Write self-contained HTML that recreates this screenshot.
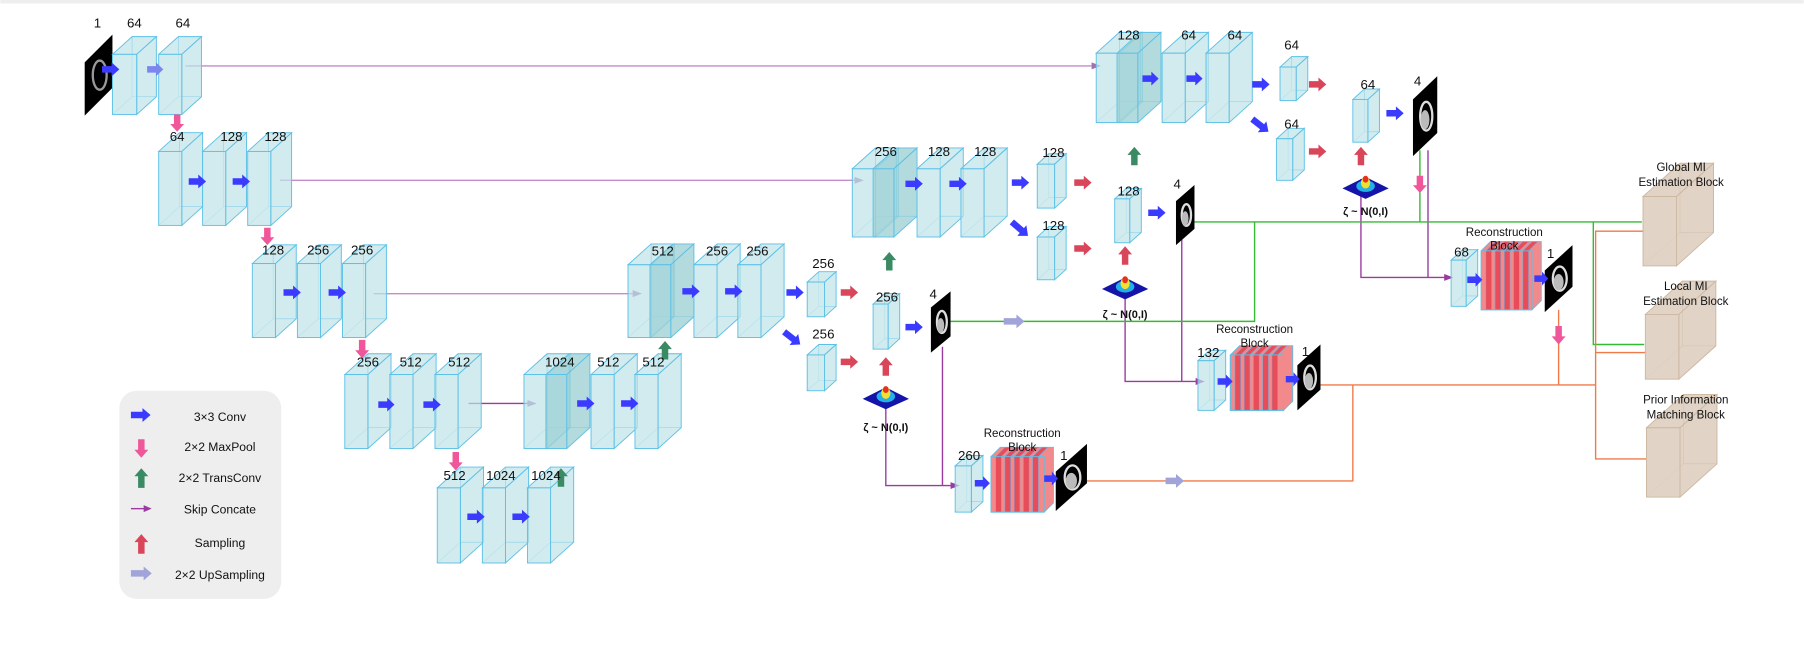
<!DOCTYPE html>
<html><head><meta charset="utf-8"><style>
html,body{margin:0;padding:0;background:#fff;}
svg{display:block;}
text{font-family:"Liberation Sans",sans-serif;fill:#111;}
</style></head><body>
<svg id="s" width="1804" height="652" viewBox="0 0 1560 564" xmlns="http://www.w3.org/2000/svg">
<rect x="0" y="0" width="1560" height="564" fill="#fff"/>
<rect x="0" y="0" width="1560" height="3" fill="#eee"/>
<g id="lines" fill="none"></g>
<g id="shapes"></g>
<g id="arrows"></g>
<g font-size="11.5" text-anchor="middle">
<text x="84" y="24">1</text><text x="116" y="24">64</text><text x="158" y="24">64</text>
<text x="153" y="122">64</text><text x="200" y="122">128</text><text x="238" y="122">128</text>
<text x="236" y="220">128</text><text x="275" y="220">256</text><text x="313" y="220">256</text>
<text x="318" y="317">256</text><text x="355" y="317">512</text><text x="397" y="317">512</text>
<text x="484" y="317">1024</text><text x="526" y="317">512</text><text x="565" y="317">512</text>
<text x="393" y="415">512</text><text x="433" y="415">1024</text><text x="472" y="415">1024</text>
<text x="573" y="221">512</text><text x="620" y="221">256</text><text x="655" y="221">256</text>
<text x="712" y="232">256</text><text x="712" y="293">256</text><text x="767" y="261">256</text><text x="807" y="258">4</text>
<text x="766" y="135">256</text><text x="812" y="135">128</text><text x="852" y="135">128</text>
<text x="911" y="136">128</text><text x="911" y="199">128</text><text x="976" y="169">128</text><text x="1018" y="163">4</text>
<text x="976" y="34" fill="#666">128</text><text x="1028" y="34" fill="#666">64</text><text x="1068" y="34" fill="#666">64</text>
<text x="1117" y="43">64</text><text x="1117" y="111">64</text><text x="1183" y="77">64</text><text x="1226" y="74">4</text>
<text x="838" y="398">260</text><text x="920" y="398">1</text>
<text x="1045" y="309">132</text><text x="1129" y="308">1</text>
<text x="1264" y="222">68</text><text x="1341" y="223">1</text>
</g>
<g font-size="10" text-anchor="middle">
<text x="884" y="378">Reconstruction</text><text x="884" y="390">Block</text>
<text x="1085" y="288">Reconstruction</text><text x="1085" y="300">Block</text>
<text x="1301" y="204">Reconstruction</text><text x="1301" y="216">Block</text>
<text x="1454" y="148">Global MI</text><text x="1454" y="161">Estimation Block</text>
<text x="1458" y="251">Local MI</text><text x="1458" y="264">Estimation Block</text>
<text x="1458" y="349">Prior Information</text><text x="1458" y="362">Matching Block</text>
</g>
<g font-size="9.5" font-weight="bold" text-anchor="middle">
<text x="766" y="373">ζ ~ N(0,I)</text><text x="973" y="275">ζ ~ N(0,I)</text><text x="1181" y="186">ζ ~ N(0,I)</text>
</g>
<rect x="103" y="338" width="140" height="180" rx="15" fill="#eee"/>
<g font-size="10.5" text-anchor="middle">
<text x="190" y="364">3×3 Conv</text><text x="190" y="390">2×2 MaxPool</text><text x="190" y="417">2×2 TransConv</text>
<text x="190" y="444">Skip Concate</text><text x="190" y="473">Sampling</text><text x="190" y="501">2×2 UpSampling</text>
</g>
<g id="legend"></g>
</svg>
<script>
var NS="http://www.w3.org/2000/svg";
function el(p,t,a){var e=document.createElementNS(NS,t);for(var k in a)e.setAttribute(k,a[k]);document.getElementById(p).appendChild(e);return e;}
function box(x,y,w,h,d,fill,stroke,g){g=g||"shapes";fill=fill||"rgba(190,226,232,0.7)";stroke=stroke||"#5cc0e6";
 var dy=d*0.9;
 el(g,"polygon",{points:[x,y,x+d,y-dy,x+w+d,y-dy,x+w,y].join(","),fill:fill,stroke:stroke,"stroke-width":0.8});
 el(g,"polygon",{points:[x+w,y,x+w+d,y-dy,x+w+d,y+h-dy,x+w,y+h].join(","),fill:fill,stroke:stroke,"stroke-width":0.8});
 el(g,"line",{x1:x,y1:y+h,x2:x+d,y2:y+h-dy,stroke:stroke,"stroke-width":0.5,opacity:0.6});
 el(g,"line",{x1:x+d,y1:y+h-dy,x2:x+w+d,y2:y+h-dy,stroke:stroke,"stroke-width":0.5,opacity:0.6});
 el(g,"line",{x1:x+d,y1:y-dy,x2:x+d,y2:y+h-dy,stroke:stroke,"stroke-width":0.5,opacity:0.6});
 el(g,"rect",{x:x,y:y,width:w,height:h,fill:fill,stroke:stroke,"stroke-width":0.8});}
function dark(x,y,w,h,d){box(x,y,w,h,d,"rgba(160,210,214,0.8)");}
function arrow(x1,y1,x2,y2,c,g){g=g||"arrows";var dx=x2-x1,dy=y2-y1,L=Math.sqrt(dx*dx+dy*dy),a=Math.atan2(dy,dx)*180/Math.PI;
 var hl=Math.min(7,L*0.45);
 el(g,"polygon",{points:[0,-2.8,L-hl,-2.8,L-hl,-6,L,0,L-hl,6,L-hl,2.8,0,2.8].join(","),fill:c,transform:"translate("+x1+","+y1+") rotate("+a+")"});}
function line(pts,c,w){el("lines","polyline",{points:pts.join(","),stroke:c,"stroke-width":w||1.2,fill:"none"});}
function head(x,y,c){el("lines","polygon",{points:[x-8,y-3,x,y,x-8,y+3].join(","),fill:c});}
function img(x,y,w,h,sk,bright){el("shapes","polygon",{points:[x,y+sk,x+w,y,x+w,y+h-sk,x,y+h].join(","),fill:"#000"});
 el("shapes","ellipse",{cx:x+w/2+1,cy:y+h/2,rx:w*0.25,ry:h*0.18,fill:"none",stroke:bright?"#ddd":"#999","stroke-width":2});
 if(bright)el("shapes","ellipse",{cx:x+w/2,cy:y+h/2+3,rx:w*0.18,ry:h*0.12,fill:"#bbb"});}
function gauss(cx,cy){el("shapes","polygon",{points:[cx-20,cy,cx,cy-10,cx+20,cy,cx,cy+9].join(","),fill:"#1414a8"});
 el("shapes","ellipse",{cx:cx,cy:cy-2,rx:8,ry:5,fill:"#22b0e8"});el("shapes","ellipse",{cx:cx,cy:cy-5,rx:4,ry:5,fill:"#f0e030"});el("shapes","ellipse",{cx:cx,cy:cy-8,rx:2.5,ry:3,fill:"#e83020"});}
function recon(x,y,w,h){var d=8;el("shapes","polygon",{points:[x,y,x+d,y-d,x+w+d,y-d,x+w+d,y+h-d,x+w,y+h,x,y+h].join(","),fill:"#f28a8c",stroke:"#5cc0e6","stroke-width":0.8});
 for(var i=0;i<5;i++){var sx=x+4+i*8;el("shapes","polygon",{points:[sx,y,sx+d,y-d,sx+d+5,y-d,sx+5,y,sx+5,y+h,sx,y+h].join(","),fill:"#e84c58",stroke:"#7aa9d6","stroke-width":0.5});}
 el("shapes","rect",{x:x,y:y,width:w,height:h,fill:"none",stroke:"#5cc0e6","stroke-width":0.8});}
var B="#3b3bff",LB="#7b86ee",P="#f0569a",G="#3a8a64",R="#d9465a",U="#a0a4d8",PU="#9b3aa0",SK="#c48ccc",GR="#33bb33",OR="#f07a4a";
// lines
line([160,57,950,57],SK);head(952,57,"#a070b0");
line([242,156,745,156],SK);head(747,156,"#a070b0");
line([323,254,553,254],SK);head(555,254,"#a070b0");
line([405,349,462,349],PU);head(464,349,"#a070b0");
line([766,335,766,420,826,420],PU);line([815,300,815,420],PU);head(830,420,PU);
line([973,240,973,330,1040,330],PU);line([1022,205,1022,330],PU);head(1042,330,PU);
line([1177,155,1177,240,1255,240],PU);line([1235,130,1235,240],PU);head(1257,240,PU);
line([822,278,1085,278,1085,192],GR);line([1033,192,1420,192],GR);line([1228,130,1228,192],GR);
line([1378,192,1378,298,1422,298],GR);
line([940,416,1170,416,1170,333],OR);line([1142,333,1380,333],OR);line([1348,268,1348,333],OR);
line([1422,200,1380,200,1380,397,1424,397],OR);line([1380,305,1424,305],OR);
// tan blocks
box(1421,170,29,60,32,"rgba(220,205,188,0.85)","#cdb8a0");
box(1423,272,29,56,32,"rgba(220,205,188,0.85)","#cdb8a0");
box(1424,370,29,60,32,"rgba(220,205,188,0.85)","#cdb8a0");
// encoder
img(73,30,24,70,24,false);
box(97,47,21,52,17);box(137,47,20,52,17);
box(137,131,20,64,18);box(175,131,20,64,18);box(214,131,20,64,18);
box(218,228,20,64,18);box(257,228,20,64,18);box(296,228,20,64,18);
box(298,324,20,64,20);box(337,324,20,64,20);box(376,324,20,64,20);
box(378,422,20,65,20);box(417,422,20,65,20);box(456,422,20,65,20);
// decoder l4
box(453,324,20,64,20);dark(472,324,18,64,20);box(511,324,20,64,20);box(549,324,20,64,20);
// l3
box(543,229,20,63,20);dark(562,229,18,63,20);box(600,229,20,63,20);box(638,229,20,63,20);
box(698,244,15,30,10);box(698,307,15,31,10);box(755,263,13,39,10);
img(805,252,17,53,14,true);gauss(766,345);
// l2
box(737,146,20,59,20);dark(755,146,18,59,20);box(793,146,20,59,20);box(831,146,20,59,20);
box(897,142,15,38,10);box(897,205,15,37,10);box(964,172,13,38,10);
img(1017,160,16,52,14,true);gauss(973,250);
// l1
box(948,46,20,60,20);dark(966,46,18,60,20);box(1005,46,20,60,20);box(1043,46,20,60,20);
box(1107,58,14,29,10);box(1104,120,14,36,10);box(1170,86,13,37,10);
img(1222,66,21,69,20,true);gauss(1181,163);
// recon blocks
box(826,403,14,40,10);recon(857,395,46,48);img(913,384,27,58,24,true);
box(1036,312,14,43,10);recon(1064,307,46,48);img(1122,298,20,57,18,true);
box(1255,225,13,40,10);recon(1281,217,44,51);img(1336,212,24,58,22,true);
// arrows
arrow(88,60,103,60,B);arrow(127,60,141,60,LB);
arrow(163,157,178,157,B);arrow(201,157,216,157,B);
arrow(245,253,260,253,B);arrow(284,253,299,253,B);
arrow(327,350,341,350,B);arrow(366,350,381,350,B);
arrow(404,447,419,447,B);arrow(443,447,458,447,B);
arrow(499,349,514,349,B);arrow(537,349,552,349,B);
arrow(590,252,605,252,B);arrow(627,252,642,252,B);
arrow(680,253,695,253,B);arrow(678,287,692,298,B);
arrow(727,253,742,253,R);arrow(727,313,742,313,R);
arrow(766,325,766,309,R);arrow(783,283,798,283,B);arrow(868,278,886,278,U);
arrow(783,159,798,159,B);arrow(821,159,836,159,B);
arrow(875,158,890,158,B);arrow(875,192,889,204,B);
arrow(929,158,944,158,R);arrow(929,215,944,215,R);
arrow(973,229,973,213,R);arrow(993,184,1008,184,B);
arrow(988,68,1002,68,B);arrow(1026,68,1040,68,B);
arrow(1083,73,1098,73,B);arrow(1083,103,1097,114,B);
arrow(1132,73,1147,73,R);arrow(1132,131,1147,131,R);
arrow(1177,143,1177,127,R);arrow(1199,98,1214,98,B);
arrow(843,418,856,418,B);arrow(903,414,915,414,B);arrow(1008,416,1024,416,U);
arrow(1053,330,1066,330,B);arrow(1112,328,1124,328,B);
arrow(1269,242,1282,242,B);arrow(1327,241,1339,241,B);
arrow(153,99,153,114,P);arrow(231,197,231,212,P);arrow(313,294,313,310,P);arrow(394,391,394,407,P);
arrow(1228,152,1228,167,P);arrow(1348,282,1348,298,P);
arrow(575,311,575,295,G);arrow(485,421,485,405,G);arrow(769,234,769,218,G);arrow(981,143,981,127,G);
// legend icons
arrow(113,359,130,359,B,"legend");arrow(122,380,122,396,P,"legend");arrow(122,422,122,405,G,"legend");
el("legend","line",{x1:113,y1:440,x2:126,y2:440,stroke:PU,"stroke-width":1.2});el("legend","polygon",{points:"124,437 131,440 124,443",fill:PU});
arrow(122,479,122,462,R,"legend");arrow(113,496,131,496,U,"legend");
</script>
</body></html>
